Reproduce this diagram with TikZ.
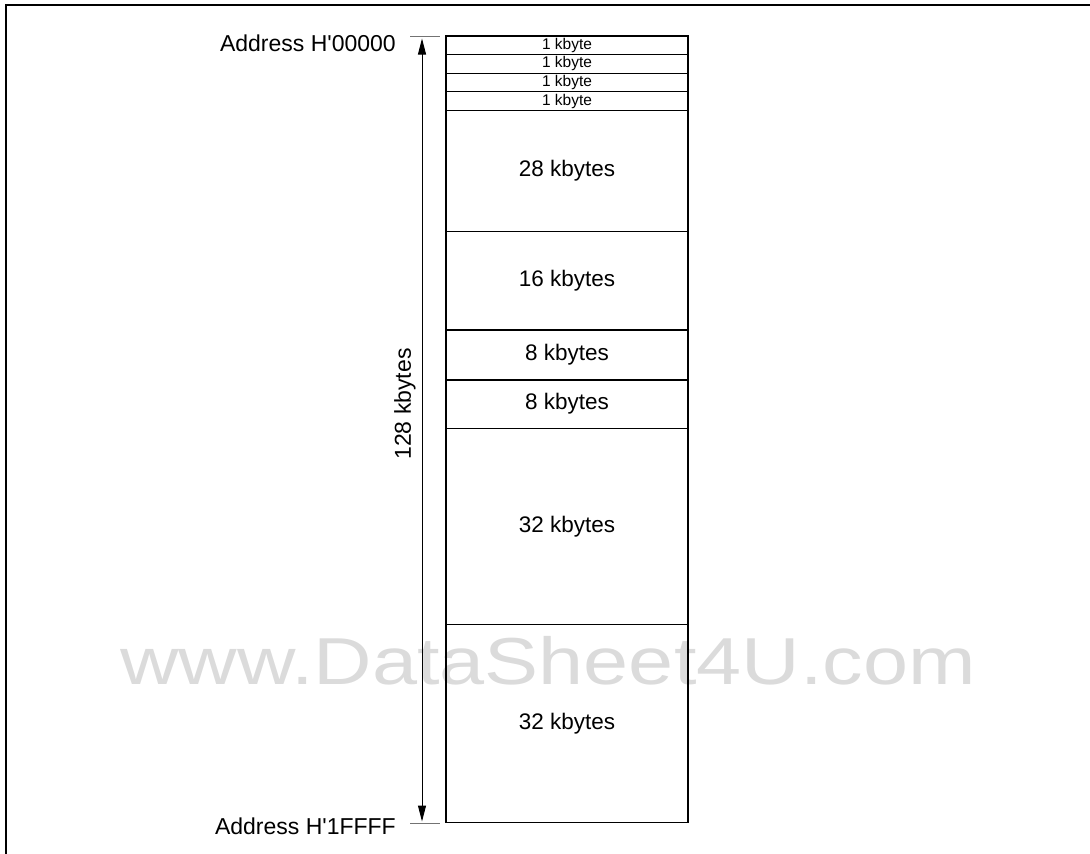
\documentclass[tikz,border=0pt]{standalone}
\usepackage{fontspec}
\setmainfont{Liberation Sans}[Ligatures=TeXOff]
\usetikzlibrary{arrows.meta}
\begin{document}
\begin{tikzpicture}[x=1pt, y=-1pt,
    cell/.style={draw, line width=1.1pt, minimum width=242pt, inner sep=0pt, outer sep=0pt,
      font=\fontsize{22.5}{26}\selectfont},
    small/.style={cell, font=\fontsize{15.5}{17}\selectfont},
    lbl/.style={inner sep=0pt, font=\fontsize{23}{27}\selectfont},
    tick/.style={line width=1.2pt, draw=black!55},
    dim/.style={line width=1pt, {Triangle[length=16pt, width=8pt]}-{Triangle[length=16pt, width=8pt]}},
    wmark/.style={inner sep=0pt, text=black!14, xscale=1.0, yscale=0.82,
      font=\fontsize{81}{90}\selectfont}]
  \useasboundingbox (0,0) rectangle (1090,854);
  % watermark behind the map
  \node[wmark] (wm) at (548,661) {www.DataSheet4U.com};
  % frame
  \draw[line width=2pt] (6,854) -- (6,5) -- (1090,5);
  % memory blocks
  \node[small, minimum height=18.6pt] (b1) at (567,45.3) {1 kbyte};
  \node[small, minimum height=18.6pt] (b2) at (567,63.9) {1 kbyte};
  \node[small, minimum height=18.6pt] (b3) at (567,82.5) {1 kbyte};
  \node[small, minimum height=18.6pt] (b4) at (567,101.1) {1 kbyte};
  \node[cell, minimum height=121.3pt] (b5) at (567,171.05) {28 kbytes};
  \node[cell, minimum height=98.3pt] (b6) at (567,280.85) {16 kbytes};
  \node[cell, minimum height=50pt] (b7) at (567,355) {8 kbytes};
  \node[cell, minimum height=48.3pt] (b8) at (567,404.15) {8 kbytes};
  \node[cell, minimum height=196pt] (b9) at (567,526.3) {32 kbytes};
  \node[cell, minimum height=198pt] (b10) at (567,723.3) {32 kbytes};
  % addresses
  \node[lbl, anchor=east] (adtop) at (396,43) {Address H'00000};
  \node[lbl, anchor=east] (adbot) at (396,826.5) {Address H'1FFFF};
  \coordinate (tkl) at (410,36.3);
  \coordinate (tkr) at (440,36.3);
  \coordinate (bkl) at (410,823.7);
  \coordinate (bkr) at (440,823.7);
  \draw[tick] (tkl) -- (tkr);
  \draw[tick] (bkl) -- (bkr);
  % size arrow
  \coordinate (atop) at (422,38.5);
  \coordinate (abot) at (422,821.5);
  \draw[dim] (atop) -- (abot);
  \node[lbl, rotate=90] (size) at (405,404) {128 kbytes};
\end{tikzpicture}
\end{document}
